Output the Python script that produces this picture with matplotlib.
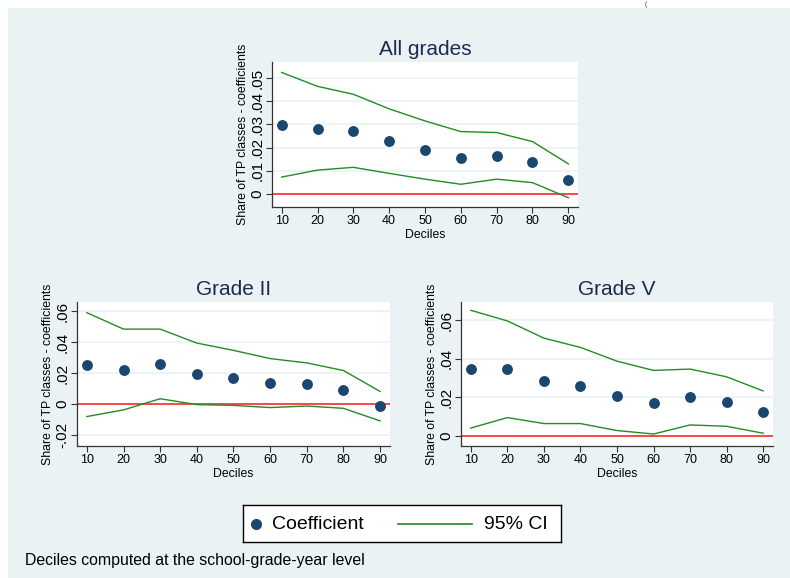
import numpy as np
import matplotlib.pyplot as plt
from matplotlib.ticker import FuncFormatter
from matplotlib.patches import Rectangle

plt.rcParams['font.family'] = ['Liberation Sans', 'DejaVu Sans']

# deciles on the x axis
deciles = [10, 20, 30, 40, 50, 60, 70, 80, 90]

# All grades
all_coef = [0.0298, 0.0282, 0.0271, 0.0228, 0.0189, 0.0155, 0.0165, 0.0138, 0.0059]
all_hi = [0.0524, 0.0464, 0.0430, 0.0367, 0.0315, 0.0269, 0.0265, 0.0226, 0.0130]
all_lo = [0.0073, 0.0103, 0.0115, 0.0089, 0.0064, 0.0042, 0.0064, 0.0049, -0.0016]

# Grade II
g2_coef = [0.0252, 0.0222, 0.0256, 0.0192, 0.0169, 0.0135, 0.0126, 0.0092, -0.0015]
g2_hi = [0.0589, 0.0483, 0.0483, 0.0393, 0.0346, 0.0293, 0.0265, 0.0216, 0.0081]
g2_lo = [-0.0081, -0.0038, 0.0034, -0.0004, -0.0009, -0.0023, -0.0013, -0.0028, -0.0109]

# Grade V
g5_coef = [0.0344, 0.0344, 0.0285, 0.0261, 0.0207, 0.0173, 0.0200, 0.0176, 0.0123]
g5_hi = [0.0650, 0.0595, 0.0506, 0.0458, 0.0387, 0.0339, 0.0346, 0.0306, 0.0233]
g5_lo = [0.0041, 0.0095, 0.0064, 0.0064, 0.0028, 0.0010, 0.0057, 0.0050, 0.0014]

BG = '#eaf2f3'
NAVY = '#1a476f'
GREEN = '#238c23'
W, H = 790, 578


def stata_fmt(v, pos):
    # Stata style labels: .05, 0, -.02
    if abs(v) < 1e-9:
        return '0'
    s = '%g' % round(v, 4)
    return s.replace('0.', '.')


def box(l, t, r, b):
    return [l / W, 1 - b / H, (r - l) / W, (b - t) / H]


def panel(rect, title, coef, hi, lo, ylim, yticks):
    ax = fig.add_axes(rect)
    ax.set_facecolor('white')
    for y in yticks:
        ax.axhline(y, color=BG, lw=1.2, zorder=0)
    ax.axhline(0, color='#ff1a1a', lw=1.1, zorder=1)
    ax.plot(deciles, hi, color=GREEN, lw=1.0, zorder=2)
    ax.plot(deciles, lo, color=GREEN, lw=1.0, zorder=2)
    ax.plot(deciles, coef, 'o', color=NAVY, ms=6.8, zorder=3)
    ax.set_xlim(7.3, 92.7)
    ax.set_ylim(*ylim)
    ax.set_xticks(deciles)
    ax.set_yticks(yticks)
    ax.yaxis.set_major_formatter(FuncFormatter(stata_fmt))
    for s in ['top', 'right']:
        ax.spines[s].set_visible(False)
    for s in ['left', 'bottom']:
        ax.spines[s].set_color('#333333')
        ax.spines[s].set_linewidth(0.9)
    ax.tick_params(direction='out', length=4, width=0.8, color='#333333', pad=2)
    ax.tick_params(axis='x', labelsize=9)
    ax.tick_params(axis='y', labelsize=11, pad=1.5)
    plt.setp(ax.get_yticklabels(), rotation=90, va='center')
    ax.set_xlabel('Deciles', fontsize=8.8, labelpad=1)
    ax.set_ylabel('Share of TP classes - coefficients', fontsize=8.8, labelpad=1)
    ax.set_title(title, fontsize=15, color='#1e2b4f', pad=5)
    return ax


fig = plt.figure(figsize=(W / 100, H / 100), dpi=100, facecolor='white')
fig.patches.append(Rectangle((8 / W, 0), 1, 1 - 8 / H, transform=fig.transFigure,
                             facecolor=BG, edgecolor='none', zorder=-5))

panel(box(272, 62, 578, 207), 'All grades', all_coef, all_hi, all_lo,
      (-0.0056, 0.0569), [0, 0.01, 0.02, 0.03, 0.04, 0.05])
panel(box(77, 302, 390, 446), 'Grade II', g2_coef, g2_hi, g2_lo,
      (-0.0271, 0.0658), [-0.02, 0, 0.02, 0.04, 0.06])
panel(box(461, 302, 773, 446), 'Grade V', g5_coef, g5_hi, g5_lo,
      (-0.0052, 0.0693), [0, 0.02, 0.04, 0.06])

# legend box
lax = fig.add_axes(box(243, 505, 561, 542))
lax.set_xlim(243, 561)
lax.set_ylim(0, 1)
lax.set_xticks([])
lax.set_yticks([])
lax.set_facecolor('white')
for s in lax.spines.values():
    s.set_color('black')
    s.set_linewidth(1.0)
lax.plot([256], [0.5], 'o', color=NAVY, ms=7)
lax.text(272, 0.48, 'Coefficient', fontsize=14, va='center', ha='left')
lax.plot([398, 472], [0.5, 0.5], color=GREEN, lw=1.2)
lax.text(484, 0.48, '95% CI', fontsize=14, va='center', ha='left')

fig.text(25 / W, 1 - 560 / H, 'Deciles computed at the school-grade-year level',
         fontsize=11.4, va='center', ha='left')
fig.text(646 / W, 1 - 4 / H, '(', fontsize=5, va='center', ha='center', color='#444444')

fig.savefig('out.png', dpi=100, facecolor='white')
